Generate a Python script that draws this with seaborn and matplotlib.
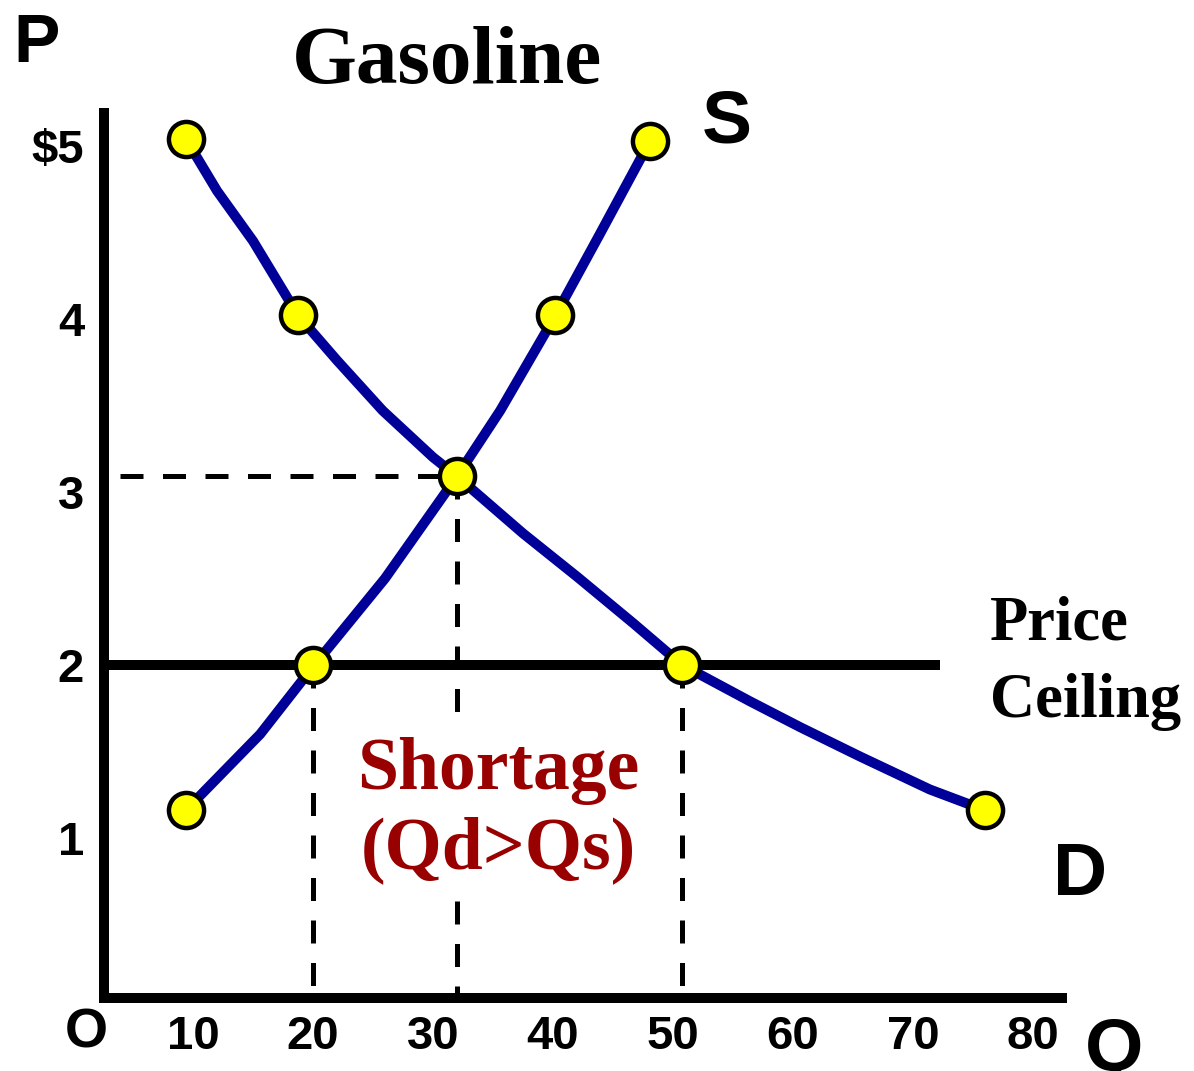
import matplotlib
matplotlib.use("Agg")
import matplotlib.pyplot as plt
import seaborn as sns
import pandas as pd

# values (Q = quantity, P = price)
supply_q = [9.4, 15.6, 20.0, 26.0, 32.0, 35.6, 40.2, 43.9, 48.1]
supply_p = [1.16, 1.60, 1.99, 2.50, 3.09, 3.47, 4.02, 4.49, 5.03]
demand_q = [9.4, 12.0, 15.0, 18.75, 22.0, 25.8, 30.0, 32.0, 37.5, 42.0, 46.7,
            50.75, 56.4, 60.6, 65.6, 71.4, 76.0]
demand_p = [5.04, 4.74, 4.45, 4.02, 3.76, 3.47, 3.20, 3.09, 2.76, 2.51, 2.24,
            2.00, 1.79, 1.64, 1.47, 1.28, 1.16]

dot_q = [9.4, 20.0, 32.0, 40.2, 48.1, 9.4, 18.75, 50.75, 76.0]
dot_p = [1.16, 2.0, 3.09, 4.02, 5.03, 5.04, 4.02, 2.0, 1.16]

eq_q, eq_p = 32.0, 3.09
ceiling_p = 2.0
ceiling_end_q = 72.25
qs_at_ceiling, qd_at_ceiling = 20.0, 50.75
eq_dash_start_q = 3.9

x_ticks = [10, 20, 30, 40, 50, 60, 70, 80]
x_labels = ["10", "20", "30", "40", "50", "60", "70", "80"]
y_ticks = [1, 2, 3, 4, 5]
y_labels = ["1", "2", "3", "4", "$5"]

sns.set_style("white")
plt.rcParams["font.family"] = ["Liberation Sans", "DejaVu Sans"]
plt.rcParams["text.color"] = "black"
plt.rcParams["xtick.color"] = "black"
plt.rcParams["ytick.color"] = "black"
SERIF = ["Liberation Serif", "DejaVu Serif"]
BLUE = "#000099"

fig = plt.figure(figsize=(11.94, 10.71), dpi=100)
ax = fig.add_axes([0.0867, 0.0682, 0.8028, 0.8263])
ax.set_xlim(2.54, 82.42)
ax.set_ylim(0.075, 5.19)

# dashed guides
dash = dict(color="black", linewidth=3.6, dashes=(4.6, 3.9), zorder=1)
ax.plot([eq_dash_start_q, eq_q], [eq_p, eq_p], **dash)
ax.plot([eq_q, eq_q], [eq_p, 0.075], **dash)
ax.plot([qs_at_ceiling, qs_at_ceiling], [ceiling_p, 0.075], **dash)
ax.plot([qd_at_ceiling, qd_at_ceiling], [ceiling_p, 0.075], **dash)

# price ceiling
ax.plot([2.54, ceiling_end_q], [ceiling_p, ceiling_p], color="black",
        linewidth=7.2, solid_capstyle="butt", zorder=2)

# supply and demand curves
for qs, ps in [(supply_q, supply_p), (demand_q, demand_p)]:
    sns.lineplot(x=qs, y=ps, sort=False, color=BLUE, linewidth=7.2,
                 solid_joinstyle="round", ax=ax, zorder=3)

dots = pd.DataFrame({"Q": dot_q, "P": dot_p})
sns.scatterplot(data=dots, x="Q", y="P", s=640, color="#ffff00",
                edgecolor="black", linewidth=3.2, ax=ax, zorder=4, clip_on=False)

# axes
for side in ["top", "right"]:
    ax.spines[side].set_visible(False)
for side in ["left", "bottom"]:
    ax.spines[side].set_linewidth(7.2)
    ax.spines[side].set_color("black")
    ax.spines[side].set_zorder(5)
ax.set_xticks(x_ticks)
ax.set_xticklabels(x_labels, fontsize=34, fontweight="bold")
ax.set_yticks(y_ticks)
ax.set_yticklabels(y_labels, fontsize=34, fontweight="bold")
ax.tick_params(axis="x", length=0, pad=12)
ax.tick_params(axis="y", length=0, pad=14)
ax.set_xlabel("")
ax.set_ylabel("")
ax.grid(False)

# labels
ax.text(31.2, 5.364, "Gasoline", family=SERIF, fontsize=60, fontweight="bold",
        ha="center", va="baseline")
ax.text(-5.0, 5.486, "P", fontsize=50, fontweight="bold", ha="left", va="baseline")
ax.text(52.4, 5.017, "S", fontsize=54, fontweight="bold", ha="left", va="baseline")
ax.text(81.7, 0.671, "D", fontsize=54, fontweight="bold", ha="left", va="baseline")
ax.text(1.08, -0.214, "O", fontsize=40, fontweight="bold", ha="center", va="baseline")
ax.text(86.75, -0.341, "Q", fontsize=54, fontweight="bold", ha="center", va="baseline")
ax.text(76.4, 2.145, "Price", family=SERIF, fontsize=45, fontweight="bold",
        ha="left", va="baseline")
ax.text(76.4, 1.699, "Ceiling", family=SERIF, fontsize=45, fontweight="bold",
        ha="left", va="baseline")

box = dict(boxstyle="square,pad=0.15", facecolor="white", edgecolor="none")
ax.text(35.42, 1.283, "Shortage", family=SERIF, fontsize=53, fontweight="bold",
        color="#990000", ha="center", va="baseline", bbox=box, zorder=6)
ax.text(35.42, 0.827, "(Qd>Qs)", family=SERIF, fontsize=53, fontweight="bold",
        color="#990000", ha="center", va="baseline", bbox=box, zorder=6)

fig.savefig("out.png", dpi=100)
